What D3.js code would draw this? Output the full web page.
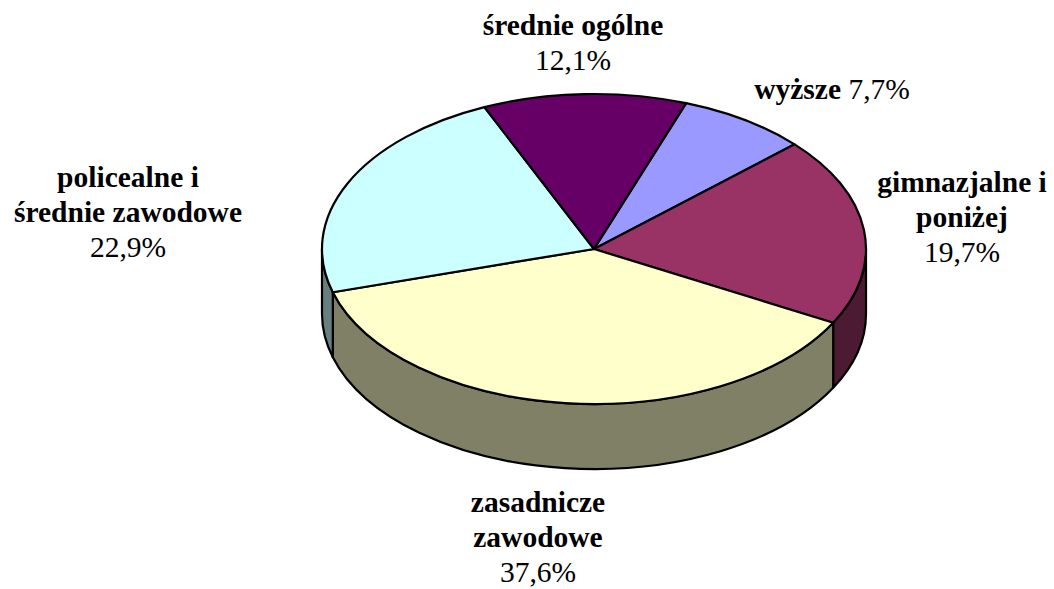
<!DOCTYPE html>
<html>
<head>
<meta charset="utf-8">
<script src="https://cdn.jsdelivr.net/npm/d3@7"></script>
<style>
  body { margin: 0; background: #fff; }
</style>
</head>
<body>
<script>
// education level shares, clockwise from the first slice
const categories = ["wyższe", "gimnazjalne i poniżej", "zasadnicze zawodowe", "policealne i średnie zawodowe", "średnie ogólne"];
const values = [7.7, 19.7, 37.6, 22.9, 12.1];
const nameLines = [["wyższe"], ["gimnazjalne i", "poniżej"], ["zasadnicze", "zawodowe"], ["policealne i", "średnie zawodowe"], ["średnie ogólne"]];
const topColors = ["#9999FF", "#993366", "#FFFFCC", "#CCFFFF", "#660066"];
const sideColors = ["#4D4D80", "#4D1A33", "#808066", "#668080", "#330033"];

// layout
const width = 1054, height = 589;
const cx = 594, cy = 249, rx = 272, ry = 155, depth = 65;
const startDeg = 19.8;
const labelPos = [
    { x: 832, y: 99, inline: true },
    { x: 962, y: 192 },
    { x: 538, y: 512 },
    { x: 128, y: 187 },
    { x: 573, y: 35 }
];
const lineGap = 35;

const pl = d3.formatLocale({ decimal: ",", thousands: " ", grouping: [3], currency: ["", " zł"] });
const fmt = v => pl.format(".1f")(v) + "%";

const svg = d3.select("body").append("svg")
    .attr("width", width)
    .attr("height", height);

const start = startDeg * Math.PI / 180;
const pie = d3.pie()
    .sort(null)
    .value(d => d.value)
    .startAngle(start)
    .endAngle(start + 2 * Math.PI);

const data = pie(categories.map((c, i) => ({ name: c, value: values[i], i })));

const pt = (a, dy = 0) => [cx + rx * Math.sin(a), cy - ry * Math.cos(a) + dy];

function topPath(d) {
    const large = d.endAngle - d.startAngle > Math.PI ? 1 : 0;
    return `M${cx},${cy}L${pt(d.startAngle)}A${rx},${ry} 0 ${large} 1 ${pt(d.endAngle)}Z`;
}

// front part of the rim is between 90 and 270 degrees
function frontRange(d) {
    const out = [];
    [0, 2 * Math.PI].forEach(k => {
        const s = Math.max(d.startAngle, Math.PI / 2 + k);
        const e = Math.min(d.endAngle, 3 * Math.PI / 2 + k);
        if (e > s) out.push([s, e]);
    });
    return out;
}

function sidePath(r) {
    const [s, e] = r;
    return `M${pt(s)}A${rx},${ry} 0 0 1 ${pt(e)}L${pt(e, depth)}A${rx},${ry} 0 0 0 ${pt(s, depth)}Z`;
}

const sides = [];
data.forEach(d => frontRange(d).forEach(r => sides.push({ r, i: d.data.i })));

svg.append("g").selectAll("path")
    .data(sides)
    .join("path")
    .attr("d", d => sidePath(d.r))
    .attr("fill", d => sideColors[d.i])
    .attr("stroke", "#000")
    .attr("stroke-width", 2.2)
    .attr("stroke-linejoin", "round");

svg.append("g").selectAll("path")
    .data(data)
    .join("path")
    .attr("d", topPath)
    .attr("fill", d => topColors[d.data.i])
    .attr("stroke", "#000")
    .attr("stroke-width", 2.2)
    .attr("stroke-linejoin", "round");

// labels
const labels = svg.append("g").selectAll("text")
    .data(data)
    .join("text")
    .attr("text-anchor", "middle")
    .style("font-family", "Liberation Serif")
    .style("font-size", "29.5px")
    .style("fill", "#000")
    .attr("x", d => labelPos[d.data.i].x)
    .attr("y", d => labelPos[d.data.i].y);

labels.each(function (d) {
    const i = d.data.i;
    const t = d3.select(this);
    const pos = labelPos[i];
    nameLines[i].forEach((line, k) => {
        t.append("tspan")
            .attr("x", pos.x)
            .attr("dy", k === 0 ? 0 : lineGap)
            .style("font-weight", "bold")
            .text(line);
    });
    if (pos.inline) {
        t.append("tspan").text(" " + fmt(values[i]));
    } else {
        t.append("tspan")
            .attr("x", pos.x)
            .attr("dy", lineGap)
            .text(fmt(values[i]));
    }
});
</script>
</body>
</html>
